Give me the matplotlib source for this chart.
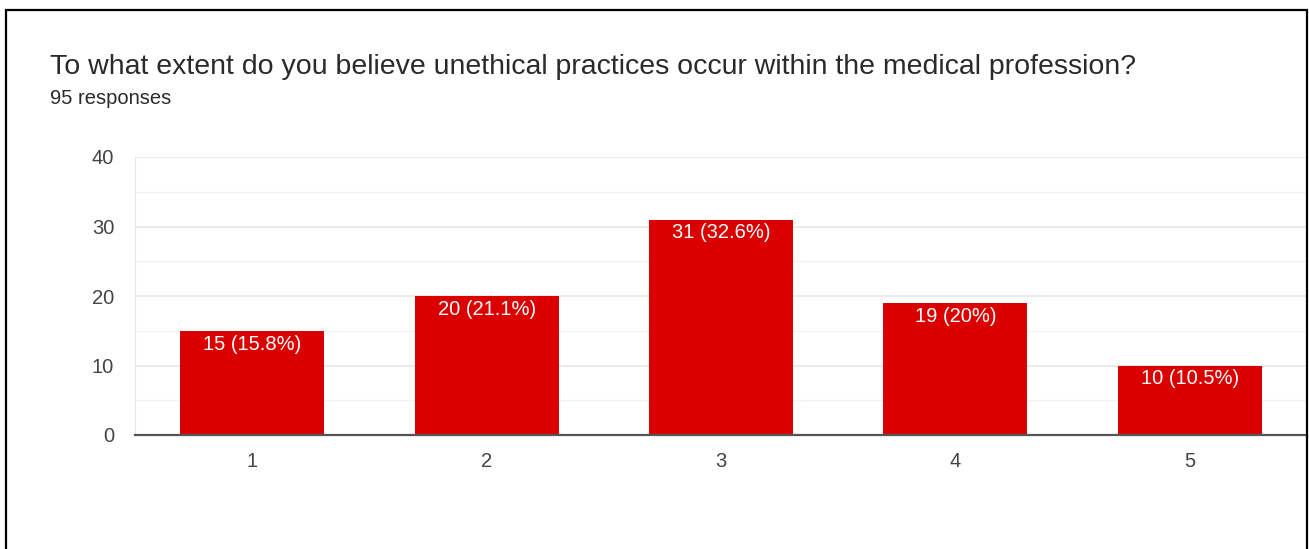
import matplotlib.pyplot as plt
from matplotlib.patches import Rectangle

plt.rcParams['font.family'] = ['Liberation Sans', 'DejaVu Sans']

categories = ['1', '2', '3', '4', '5']
counts = [15, 20, 31, 19, 10]
percents = ['15.8%', '21.1%', '32.6%', '20%', '10.5%']
title = 'To what extent do you believe unethical practices occur within the medical profession?'
subtitle = '95 responses'

W, H = 1309, 549
fig = plt.figure(figsize=(W / 100, H / 100), dpi=100)

# black border round the screenshot
fig.patches.append(Rectangle((6 / W, -0.1), 1301 / W, 1.1 - 10 / H,
                             transform=fig.transFigure, fill=False,
                             edgecolor='black', linewidth=1.6))

ax = fig.add_axes([135 / W, 1 - 435 / H, 1172 / W, 278 / H])
x = range(len(categories))
bars = ax.bar(x, counts, width=0.615, color='#db0000', zorder=3)

for b, c, p in zip(bars, counts, percents):
    ax.text(b.get_x() + b.get_width() / 2, c - 0.55, f'{c} ({p})',
            ha='center', va='top', color='white', fontsize=14.5, zorder=4)

ax.set_xlim(-0.5, 4.5)
ax.set_ylim(0, 40)
ax.set_yticks([0, 10, 20, 30, 40])
ax.set_yticks([5, 15, 25, 35], minor=True)
ax.set_xticks(list(x))
ax.set_xticklabels(categories)
ax.grid(axis='y', which='major', color='#e6e6e6', linewidth=1.2, zorder=0)
ax.grid(axis='y', which='minor', color='#f2f2f2', linewidth=1.0, zorder=0)
ax.tick_params(axis='both', which='both', length=0, labelsize=14.5,
               labelcolor='#444444')
ax.tick_params(axis='y', pad=15)
ax.tick_params(axis='x', pad=12)
for s in ['top', 'right']:
    ax.spines[s].set_visible(False)
ax.spines['left'].set_color('#e6e6e6')
ax.spines['bottom'].set_color('#555555')
ax.spines['bottom'].set_linewidth(1.6)
ax.spines['bottom'].set_zorder(5)

fig.text(50 / W, 1 - 67 / H, title, fontsize=20.5, color='#2a2a2a', va='center')
fig.text(50 / W, 1 - 99 / H, subtitle, fontsize=14.5, color='#2a2a2a', va='center')

fig.savefig('out.png', dpi=100)
